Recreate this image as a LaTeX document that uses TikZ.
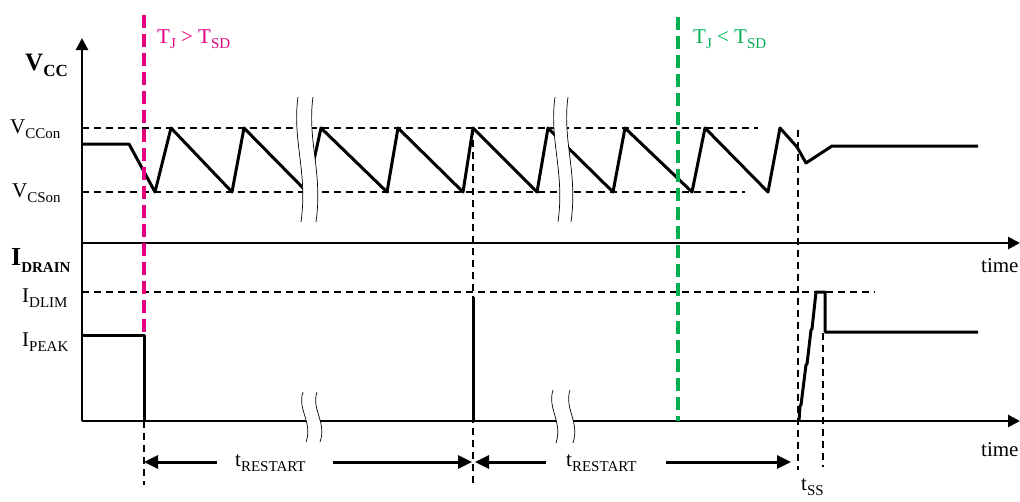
\documentclass[tikz,border=0pt]{standalone}
\usepackage{fontspec}
\setmainfont{Liberation Serif}
\usetikzlibrary{arrows.meta}
\definecolor{mag}{RGB}{228,0,127}
\definecolor{grn}{RGB}{0,176,80}
\newcommand{\lsub}[1]{\raisebox{-5pt}{\fontsize{15}{15}\selectfont #1}}
\newcommand{\brkmark}[4]{%
 \fill[white] (#1,#3) .. controls ({#1-6},{#3+0.35*(#4-#3)}) and ({#1+10},{#3+0.6*(#4-#3)}) .. ({#1+3},#4)
   -- ({#2+3},#4) .. controls ({#2+10},{#3+0.6*(#4-#3)}) and ({#2-6},{#3+0.35*(#4-#3)}) .. (#2,#3) -- cycle;
 \draw[brk] (#1,#3) .. controls ({#1-6},{#3+0.35*(#4-#3)}) and ({#1+10},{#3+0.6*(#4-#3)}) .. ({#1+3},#4);
 \draw[brk] (#2,#3) .. controls ({#2-6},{#3+0.35*(#4-#3)}) and ({#2+10},{#3+0.6*(#4-#3)}) .. ({#2+3},#4);
}
\begin{document}
\begin{tikzpicture}[x=1pt,y=-1pt,
  axisline/.style={line width=2.6pt},
  wave/.style={line width=3pt, line join=round},
  guide/.style={line width=1.4pt, dash pattern=on 7pt off 5pt},
  magline/.style={line width=3.5pt, draw=mag, dash pattern=on 13pt off 6pt},
  grnline/.style={line width=3.5pt, draw=grn, dash pattern=on 13pt off 6pt},
  brk/.style={line width=0.7pt},
  dimarrow/.style={line width=3pt, -{Triangle[length=14pt,width=13pt]}},
  axarrow/.style={-{Triangle[length=12pt,width=12pt]}},
  lbl/.style={anchor=base west, inner sep=0pt, font=\fontsize{21}{21}\selectfont}]
\useasboundingbox (0,0) rectangle (1020,501);

% guide lines
\draw[guide] (82,128) -- (758,128);
\draw[guide] (82,192) -- (745,192);
\draw[guide] (82,292) -- (875,292);
\draw[guide] (473,128) -- (473,485);
\draw[guide] (144,421) -- (144,485);
\draw[guide] (798,130) -- (798,470);
\draw[guide] (823,333) -- (823,467);

% VCC waveform
\draw[wave] (82,144) -- (129,144) -- (155,192) -- (171,128) -- (232,192) -- (244,128)
  -- (307,192) -- (321,128) -- (387,192) -- (398,128) -- (463,192) -- (473,128)
  -- (537,192) -- (548,128) -- (613,192) -- (625,128) -- (692,192) -- (705,128)
  -- (768,192) -- (780,128) -- (797,147) -- (806,163) -- (832,146) -- (978,146);

% IDRAIN waveform
\draw[wave] (82,335) -- (144,335) -- (144,421);
\draw[wave] (473,297) -- (473,421);
\draw[wave] (799,421) -- (800,406) -- (801,405) -- (806,365) -- (807,364) -- (811,330)
  -- (812,329) -- (816,292) -- (825,292) -- (825,332) -- (978,332);

% axes
\draw[axisline, axarrow] (82,421) -- (82,38);
\draw[axisline, axarrow] (82,243) -- (1020,243);
\draw[axisline, axarrow] (82,421) -- (1020,421);

% breaks
\brkmark{298}{313}{97}{222}
\brkmark{555}{568}{97}{222}
\brkmark{303}{317}{392}{442}
\brkmark{553}{570}{390}{443}

% temperature markers
\draw[magline] (144,15) -- (144,335);
\draw[grnline] (678,17) -- (678,421);

% labels
\node[lbl] (vccon) at (10,133) {V\lsub{CCon}};
\node[lbl] (vcson) at (12,197) {V\lsub{CSon}};
\node[lbl, font=\fontsize{25}{25}\selectfont\bfseries] (vcc) at (25,70) {V\raisebox{-6pt}{\fontsize{17}{17}\selectfont\bfseries CC}};
\node[lbl, font=\fontsize{26}{26}\selectfont\bfseries] (idrain) at (11,265) {I\raisebox{-7pt}{\fontsize{15}{15}\selectfont\bfseries DRAIN}};
\node[lbl] (idlim) at (22,302) {I\lsub{DLIM}};
\node[lbl] (ipeak) at (22,346) {I\lsub{PEAK}};
\node[lbl, text=mag] (hot) at (157,43) {T\lsub{J} > T\lsub{SD}};
\node[lbl, text=grn] (cool) at (693,43) {T\lsub{J} < T\lsub{SD}};
\node[lbl] (time1) at (981,272) {time};
\node[lbl] (time2) at (981,456) {time};
\node[lbl] (tr1) at (235,466) {t\lsub{RESTART}};
\node[lbl] (tr2) at (566,466) {t\lsub{RESTART}};
\node[lbl] (tss) at (801,490) {t\lsub{SS}};

% restart / soft-start arrows
\coordinate (r1tip) at (144,462);
\coordinate (r1l) at (217,462);
\coordinate (r1r) at (333,462);
\coordinate (r1end) at (472,462);
\coordinate (r2tip) at (475,462);
\coordinate (r2l) at (546,462);
\coordinate (r2r) at (666,462);
\coordinate (r2end) at (791,462);
\draw[dimarrow] (r1l) -- (r1tip);
\draw[dimarrow] (r1r) -- (r1end);
\draw[dimarrow] (r2l) -- (r2tip);
\draw[dimarrow] (r2r) -- (r2end);
\end{tikzpicture}
\end{document}
